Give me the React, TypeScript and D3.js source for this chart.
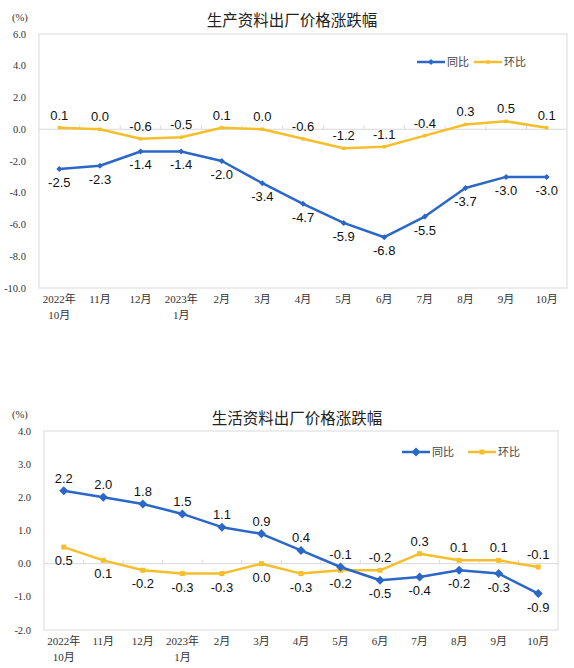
import React from "react";
import * as d3 from "d3";

const categories: string[][] = [
  ["2022年", "10月"], ["11月"], ["12月"], ["2023年", "1月"], ["2月"], ["3月"], ["4月"],
  ["5月"], ["6月"], ["7月"], ["8月"], ["9月"], ["10月"],
];

const prodYoY = [-2.5, -2.3, -1.4, -1.4, -2.0, -3.4, -4.7, -5.9, -6.8, -5.5, -3.7, -3.0, -3.0];
const prodMoM = [0.1, 0.0, -0.6, -0.5, 0.1, 0.0, -0.6, -1.2, -1.1, -0.4, 0.3, 0.5, 0.1];
const consYoY = [2.2, 2.0, 1.8, 1.5, 1.1, 0.9, 0.4, -0.1, -0.5, -0.4, -0.2, -0.3, -0.9];
const consMoM = [0.5, 0.1, -0.2, -0.3, -0.3, 0.0, -0.3, -0.2, -0.2, 0.3, 0.1, 0.1, -0.1];

const prodTicks = [6, 4, 2, 0, -2, -4, -6, -8, -10];
const consTicks = [4, 3, 2, 1, 0, -1, -2];

const seriesNames = ["同比", "环比"];
const titles = ["生产资料出厂价格涨跌幅", "生活资料出厂价格涨跌幅"];

const BLUE = "#2b67c6";
const YELLOW = "#f5bf2c";
const GRID = "#d9d9d9";
const SERIF = "'Liberation Serif', 'Times New Roman', 'Noto Sans CJK SC', serif";
const SANS = "'Liberation Sans', Arial, sans-serif";
const CJK = "'Noto Sans CJK SC', sans-serif";

type Cfg = {
  left: number; top: number; right: number; bottom: number;
  domain: [number, number]; ticks: number[];
  yoy: number[]; mom: number[];
  title: string; titleX: number; titleY: number;
  pctY: number; legendX: number; legendY: number;
  diamond: number; square: number;
  yoyAbove: (i: number) => boolean;
};

function Chart({ c }: { c: Cfg }) {
  const x = d3.scaleBand<number>().domain(d3.range(categories.length)).range([c.left, c.right]);
  const y = d3.scaleLinear().domain(c.domain).range([c.bottom, c.top]);
  const cx = (i: number) => (x(i) as number) + x.bandwidth() / 2;
  const line = d3.line<number>().x((_, i) => cx(i)).y((d) => y(d));
  const y0 = y(0);
  const diamond = (px: number, py: number, s: number) =>
    `M${px},${py - s}L${px + s},${py}L${px},${py + s}L${px - s},${py}Z`;
  const sq = c.square;
  return (
    <g>
      <text x={12} y={c.pctY} fontFamily={SERIF} fontSize={10.5} fill="#333">(%)</text>
      <text x={c.titleX} y={c.titleY} textAnchor="middle" fontFamily={CJK} fontSize={15.5} fill="#222">{c.title}</text>
      <rect x={c.left} y={c.top} width={c.right - c.left} height={c.bottom - c.top} fill="none" stroke={GRID} strokeWidth={1} />
      <line x1={c.left} x2={c.right} y1={y0} y2={y0} stroke={GRID} strokeWidth={1} />
      {d3.range(1, categories.length).map((i) => (
        <line key={i} x1={x(i) as number} x2={x(i) as number} y1={y0 - 4} y2={y0} stroke={GRID} strokeWidth={1} />
      ))}
      {c.ticks.map((t) => (
        <text key={t} x={c.left - 13} y={y(t) + 3.5} textAnchor="end" fontFamily={SERIF} fontSize={10.5} fill="#333">
          {t.toFixed(1)}
        </text>
      ))}
      {categories.map((lab, i) => (
        <text key={i} textAnchor="middle" fontFamily={SERIF} fontSize={11} fill="#333">
          {lab.map((l, k) => (
            <tspan key={k} x={cx(i)} y={c.bottom + 15 + k * 16}>{l}</tspan>
          ))}
        </text>
      ))}
      <path d={line(c.mom) || ""} fill="none" stroke={YELLOW} strokeWidth={2.5} strokeLinejoin="round" />
      <path d={line(c.yoy) || ""} fill="none" stroke={BLUE} strokeWidth={2.5} strokeLinejoin="round" />
      {c.mom.map((v, i) => (
        <rect key={i} x={cx(i) - sq / 2} y={y(v) - sq / 2} width={sq} height={sq} fill={YELLOW} />
      ))}
      {c.yoy.map((v, i) => (
        <path key={i} d={diamond(cx(i), y(v), c.diamond)} fill={BLUE} />
      ))}
      {c.yoy.map((v, i) => (
        <text key={i} x={cx(i)} y={c.yoyAbove(i) ? y(v) - 8 : y(v) + 18} textAnchor="middle" fontFamily={SANS} fontSize={13} fill="#111">
          {v.toFixed(1)}
        </text>
      ))}
      {c.mom.map((v, i) => (
        <text key={i} x={cx(i)} y={c.yoyAbove(i) ? y(v) + 18 : y(v) - 8} textAnchor="middle" fontFamily={SANS} fontSize={13} fill="#111">
          {v.toFixed(1)}
        </text>
      ))}
      <g>
        <line x1={c.legendX} x2={c.legendX + 28} y1={c.legendY} y2={c.legendY} stroke={BLUE} strokeWidth={2.5} />
        <path d={diamond(c.legendX + 14, c.legendY, c.diamond)} fill={BLUE} />
        <text x={c.legendX + 30} y={c.legendY + 4} fontFamily={CJK} fontSize={11} fill="#444">{seriesNames[0]}</text>
        <line x1={c.legendX + (c.diamond > 4 ? 66 : 57)} x2={c.legendX + (c.diamond > 4 ? 94 : 85)} y1={c.legendY} y2={c.legendY} stroke={YELLOW} strokeWidth={2.5} />
        <rect x={c.legendX + (c.diamond > 4 ? 80 : 71) - sq / 2} y={c.legendY - sq / 2} width={sq} height={sq} fill={YELLOW} />
        <text x={c.legendX + (c.diamond > 4 ? 96 : 87)} y={c.legendY + 4} fontFamily={CJK} fontSize={11} fill="#444">{seriesNames[1]}</text>
      </g>
    </g>
  );
}

export default function App() {
  const top: Cfg = {
    left: 39, top: 34, right: 567, bottom: 288,
    domain: [-10, 6], ticks: prodTicks, yoy: prodYoY, mom: prodMoM,
    title: titles[0], titleX: 292, titleY: 26, pctY: 21,
    legendX: 417, legendY: 62, diamond: 3, square: 3.5,
    yoyAbove: () => false,
  };
  const bottom: Cfg = {
    left: 44, top: 431, right: 558, bottom: 630,
    domain: [-2, 4], ticks: consTicks, yoy: consYoY, mom: consMoM,
    title: titles[1], titleX: 297, titleY: 424, pctY: 418,
    legendX: 402, legendY: 452, diamond: 4.5, square: 5,
    yoyAbove: (i) => i < 8,
  };
  return (
    <div style={{ position: "absolute", left: 0, top: 0 }}>
      <svg width={574} height={668} style={{ display: "block", background: "#fff" }}>
        <Chart c={top} />
        <Chart c={bottom} />
      </svg>
    </div>
  );
}
